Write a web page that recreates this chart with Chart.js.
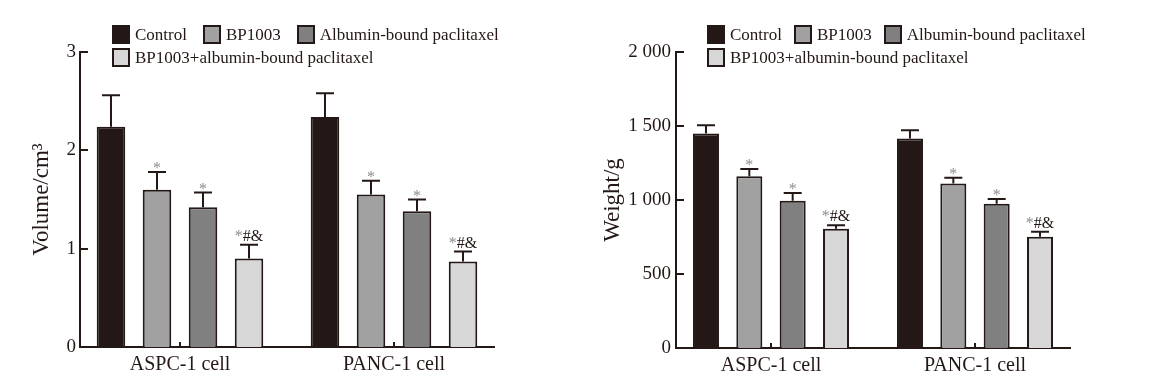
<!DOCTYPE html>
<html>
<head>
<meta charset="utf-8">
<script src="https://cdn.jsdelivr.net/npm/chart.js@4.4.1/dist/chart.umd.min.js"></script>
<style>
  html, body { margin: 0; padding: 0; background: #fff; }
  #wrap { position: relative; width: 1168px; height: 382px; background: #fff; overflow: hidden; }
  .panel { position: absolute; top: 0; width: 584px; height: 382px; }
  .legend { position: absolute; top: 23px; font-family: "Liberation Serif", "Times New Roman", serif; font-size: 17px; color: #231815; }
  .lrow { display: flex; align-items: center; height: 23px; white-space: nowrap; }
  .litem { display: flex; align-items: center; line-height: 1; }
  .lbox { box-sizing: border-box; width: 18px; height: 19px; border: 2px solid #231815; margin-right: 5px; }
</style>
</head>
<body>
<div id="wrap">
  <div class="panel" style="left:0"><canvas id="c1" width="584" height="382"></canvas></div>
  <div class="panel" style="left:584px"><canvas id="c2" width="584" height="382"></canvas></div>
  <div class="legend" id="leg1" style="left:112px"></div>
  <div class="legend" id="leg2" style="left:707px"></div>
</div>
<script>
// ---- data ----
const categories = ['ASPC-1 cell', 'PANC-1 cell'];
const seriesNames = ['Control', 'BP1003', 'Albumin-bound paclitaxel', 'BP1003+albumin-bound paclitaxel'];

const volumeControl = [2.24, 2.34];
const volumeBP1003 = [1.60, 1.55];
const volumeAlbumin = [1.42, 1.38];
const volumeCombo = [0.90, 0.87];
const volumeControlSD = [0.32, 0.24];
const volumeBP1003SD = [0.18, 0.14];
const volumeAlbuminSD = [0.15, 0.12];
const volumeComboSD = [0.14, 0.10];

const weightControl = [1450, 1415];
const weightBP1003 = [1160, 1112];
const weightAlbumin = [995, 975];
const weightCombo = [805, 752];
const weightControlSD = [55, 57];
const weightBP1003SD = [50, 38];
const weightAlbuminSD = [52, 32];
const weightComboSD = [25, 33];

const significance = ['', '*', '*', '*#&'];
const volumeTickLabels = ['0', '1', '2', '3'];
const weightTickLabels = ['0', '500', '1 000', '1 500', '2 000'];

// ---- styles ----
const DARK = '#231815';
const STAR = '#8e8e8e';
const SERIF = '"Liberation Serif", "Times New Roman", serif';
const seriesColors = ['#231815', '#a0a1a0', '#808080', '#d7d7d7'];

const decorPlugin = {
  id: 'decor',
  afterLayout(chart, args, opts) {
    // widen the category spacing slightly beyond the drawn axis line
    const x = chart.scales.x;
    const ext = opts.xExtend || 0;
    x._startPixel -= ext;
    x._endPixel += ext;
    x._length = x._endPixel - x._startPixel;
  },
  afterDatasetsDraw(chart) {
    const ctx = chart.ctx;
    const yScale = chart.scales.y;
    ctx.save();
    chart.data.datasets.forEach((ds, i) => {
      const meta = chart.getDatasetMeta(i);
      meta.data.forEach((bar, j) => {
        const top = yScale.getPixelForValue(ds.data[j] + ds.sd[j]);
        ctx.strokeStyle = DARK;
        ctx.lineWidth = 2;
        ctx.beginPath();
        ctx.moveTo(bar.x, bar.y);
        ctx.lineTo(bar.x, top);
        ctx.moveTo(bar.x - 9, top);
        ctx.lineTo(bar.x + 9, top);
        ctx.stroke();
        if (ds.sig) {
          ctx.font = '16px ' + SERIF;
          ctx.textBaseline = 'alphabetic';
          ctx.textAlign = 'left';
          const w = ctx.measureText(ds.sig).width;
          const base = ds.sig.length === 1 ? top + 1 : top - 4;
          let x = bar.x - w / 2;
          for (const ch of ds.sig) {
            ctx.fillStyle = ch === '*' ? STAR : DARK;
            ctx.fillText(ch, x, base);
            x += ctx.measureText(ch).width;
          }
        }
      });
    });
    ctx.restore();
  },
  afterDraw(chart) {
    const ctx = chart.ctx;
    const y = chart.scales.y, x = chart.scales.x;
    ctx.save();
    ctx.strokeStyle = DARK;
    ctx.lineWidth = 2;
    ctx.beginPath();
    y.ticks.forEach((t, i) => {
      const py = Math.round(y.getPixelForTick(i));
      ctx.moveTo(chart.chartArea.left, py);
      ctx.lineTo(chart.chartArea.left + 8, py);
    });
    x.ticks.forEach((t, i) => {
      const px = Math.round(x.getPixelForTick(i));
      ctx.moveTo(px, chart.chartArea.bottom);
      ctx.lineTo(px, chart.chartArea.bottom - 5);
    });
    ctx.stroke();
    ctx.restore();
  }
};

function buildChart(id, cfg) {
  return new Chart(document.getElementById(id), {
    type: 'bar',
    data: {
      labels: categories,
      datasets: cfg.values.map((v, i) => ({
        label: seriesNames[i],
        data: v,
        sd: cfg.sds[i],
        sig: significance[i],
        backgroundColor: seriesColors[i],
        borderColor: DARK,
        borderWidth: 2,
        borderSkipped: 'start',
        categoryPercentage: cfg.catPct,
        barPercentage: cfg.barPct
      }))
    },
    options: {
      responsive: false,
      animation: false,
      devicePixelRatio: 1,
      layout: { padding: { left: 0, right: cfg.padRight, top: 52, bottom: 0 } },
      plugins: {
        legend: { display: false },
        tooltip: { enabled: false },
        decor: { xExtend: cfg.xExtend }
      },
      scales: {
        x: {
          grid: { display: false, drawTicks: false },
          border: { display: true, color: DARK, width: 2 },
          ticks: { color: DARK, font: { family: SERIF, size: 20 }, padding: 6, maxRotation: 0 },
          afterFit: (s) => { s.height = cfg.xHeight; }
        },
        y: {
          min: 0, max: cfg.max,
          grid: { display: false, drawTicks: false },
          border: { display: true, color: DARK, width: 2 },
          ticks: {
            stepSize: cfg.step, color: DARK, font: { family: SERIF, size: 19 }, padding: cfg.tickPad,
            callback: (v, i) => cfg.tickLabels[i]
          },
          title: {
            display: true, text: cfg.title, color: DARK,
            font: { family: SERIF, size: 23, lineHeight: 1.2 },
            padding: { top: cfg.titlePad, bottom: 0 }
          },
          afterFit: (s) => { s.width = cfg.yWidth; }
        }
      }
    },
    plugins: [decorPlugin]
  });
}

buildChart('c1', {
  values: [volumeControl, volumeBP1003, volumeAlbumin, volumeCombo],
  sds: [volumeControlSD, volumeBP1003SD, volumeAlbuminSD, volumeComboSD],
  max: 3, step: 1, tickLabels: volumeTickLabels, title: 'Volume/cm\u00B3',
  yWidth: 80, padRight: 90, xHeight: 35, titlePad: 28, tickPad: 4,
  catPct: 0.86, barPct: 0.62, xExtend: 7
});
buildChart('c2', {
  values: [weightControl, weightBP1003, weightAlbumin, weightCombo],
  sds: [weightControlSD, weightBP1003SD, weightAlbuminSD, weightComboSD],
  max: 2000, step: 500, tickLabels: weightTickLabels, title: 'Weight/g',
  yWidth: 92, padRight: 98, xHeight: 34, titlePad: 15, tickPad: 5,
  catPct: 0.85, barPct: 0.6, xExtend: 7
});

function buildLegend(id, gap) {
  const el = document.getElementById(id);
  const rows = [[0, 1, 2], [3]];
  rows.forEach(r => {
    const row = document.createElement('div');
    row.className = 'lrow';
    r.forEach((k, n) => {
      const item = document.createElement('div');
      item.className = 'litem';
      if (n < r.length - 1) item.style.marginRight = gap + 'px';
      const box = document.createElement('span');
      box.className = 'lbox';
      box.style.background = seriesColors[k];
      const txt = document.createElement('span');
      txt.textContent = seriesNames[k];
      item.appendChild(box);
      item.appendChild(txt);
      row.appendChild(item);
    });
    el.appendChild(row);
  });
}
buildLegend('leg1', 16);
buildLegend('leg2', 12);
</script>
</body>
</html>
